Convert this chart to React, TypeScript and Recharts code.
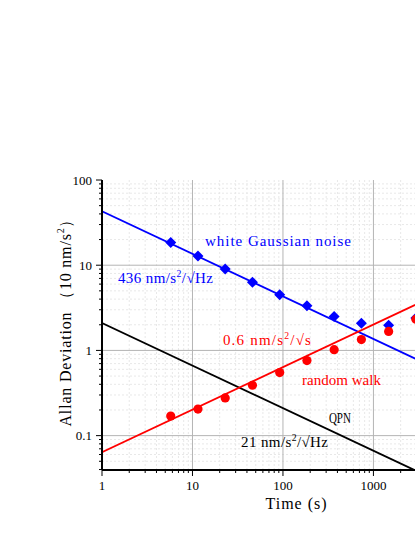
import {
  ComposedChart,
  Line,
  Scatter,
  XAxis,
  YAxis,
  ReferenceLine,
  ReferenceDot,
  Label,
} from 'recharts'

// averaging times (s) and measured Allan deviations (10 nm/s^2)
const tau = [5.75, 11.5, 23, 46, 92, 184, 368, 736, 1472, 2944]
const whiteNoise = [18.5, 12.8, 9.0, 6.3, 4.5, 3.35, 2.5, 2.08, 1.97, 2.4]
const randomWalk = [0.17, 0.205, 0.277, 0.39, 0.55, 0.76, 1.02, 1.34, 1.67, 2.32]

// fitted slopes, read at both ends
const fitX = [1, 2900]
const whiteFit = [43, 0.8]
const walkFit = [0.064, 3.43]
const qpnFit = [2.1, 0.039]

const xMajor = [1, 10, 100, 1000]
const xMinor = [2, 3, 4, 5, 6, 7, 8, 9, 20, 30, 40, 50, 60, 70, 80, 90, 200, 300, 400, 500, 600, 700, 800, 900, 2000]
const yMajor = [0.1, 1, 10, 100]
const yMinor = [0.04, 0.05, 0.06, 0.07, 0.08, 0.09, 0.2, 0.3, 0.4, 0.5, 0.6, 0.7, 0.8, 0.9, 2, 3, 4, 5, 6, 7, 8, 9, 20, 30, 40, 50, 60, 70, 80, 90]

// annotation text: odd parts are superscripts
const notes = [
  { parts: ['white Gaussian noise'], x: 13.75, y: 19.2, color: '#0000ff' },
  { parts: ['436 nm/s', '2', '/√Hz'], x: 1.5, y: 7.03, color: '#0000ff' },
  { parts: ['0.6 nm/s', '2', '/√s'], x: 21.7, y: 1.31, color: '#ff0000' },
  { parts: ['random walk'], x: 162, y: 0.444, color: '#ff0000' },
  { parts: ['QPN'], x: 322, y: 0.163, color: '#000000' },
  { parts: ['21 nm/s', '2', '/√Hz'], x: 34.4, y: 0.085, color: '#000000' },
]
const noteWidths = [146, 95, 88, 79, 22, 87]
const noteSizes = [15, 15, 15, 15, 14, 15]
const noteSqueeze = [false, false, false, false, true, false]

const FONT = '"Liberation Serif", serif'

const pts = (xs: number[], ys: number[]) => xs.map((x, i) => ({ x, y: ys[i] }))

const isMajor = (v: number) => Math.abs(Math.log10(v) - Math.round(Math.log10(v))) < 1e-6

function Diamond(props: any) {
  const { cx, cy } = props
  if (cx == null || cy == null) return null
  const r = 5.5
  return (
    <polygon
      points={`${cx},${cy - r} ${cx + r},${cy} ${cx},${cy + r} ${cx - r},${cy}`}
      fill="#0000ff"
    />
  )
}

function Dot(props: any) {
  const { cx, cy } = props
  if (cx == null || cy == null) return null
  return <circle cx={cx} cy={cy} r={4.6} fill="#ff0000" />
}

function XTick(props: any) {
  const { x, y, payload } = props
  const major = isMajor(payload.value)
  return (
    <g>
      <line x1={x} x2={x} y1={y} y2={y + (major ? 6 : 3)} stroke="#000" strokeWidth={1} />
      {major && (
        <text x={x} y={y + 15} textAnchor="middle" dominantBaseline="central" fontSize={13} fontFamily={FONT} fill="#000">
          {payload.value}
        </text>
      )}
    </g>
  )
}

function YTick(props: any) {
  const { x, y, payload } = props
  const major = isMajor(payload.value)
  return (
    <g>
      <line x1={x - (major ? 6 : 3)} x2={x} y1={y} y2={y} stroke="#000" strokeWidth={1} />
      {major && (
        <text x={x - 10} y={y} textAnchor="end" dominantBaseline="central" fontSize={13} fontFamily={FONT} fill="#000">
          {payload.value}
        </text>
      )}
    </g>
  )
}

function RichText({ x, y, parts, color, width, size, squeeze }: any) {
  return (
    <text
      x={x}
      y={y}
      fill={color}
      fontSize={size}
      fontFamily={FONT}
      dominantBaseline="central"
      textLength={width}
      lengthAdjust={squeeze ? 'spacingAndGlyphs' : 'spacing'}
    >
      {parts.map((p: string, i: number) =>
        i % 2 === 1 ? (
          <tspan key={i} dy={-5} fontSize={size * 0.65}>
            {p}
          </tspan>
        ) : (
          <tspan key={i} dy={i === 0 ? 0 : 5}>
            {p}
          </tspan>
        ),
      )}
    </text>
  )
}

export default function App() {
  const xTicks = [...xMajor, ...xMinor].sort((a, b) => a - b)
  const yTicks = [...yMajor, ...yMinor].sort((a, b) => a - b)

  return (
    <div style={{ position: 'absolute', left: 0, top: 0, width: 415, height: 537, overflow: 'hidden', background: '#fff' }}>
      <ComposedChart width={415} height={537} margin={{ top: 180, right: 0, bottom: 0, left: 0 }}>
        <XAxis
          dataKey="x"
          type="number"
          scale="log"
          domain={[1, 2880]}
          allowDataOverflow
          ticks={xTicks}
          interval={0}
          tickLine={false}
          tickSize={0}
          tickMargin={0}
          height={67}
          axisLine={{ stroke: '#000', strokeWidth: 2 }}
          tick={<XTick />}
        >
          <Label
            content={() => (
              <text x={296} y={503} textAnchor="middle" dominantBaseline="central" fontSize={16} fontFamily={FONT} fill="#000" textLength={61} lengthAdjust="spacing">
                Time (s)
              </text>
            )}
          />
        </XAxis>
        <YAxis
          dataKey="y"
          type="number"
          scale="log"
          domain={[0.0395, 100]}
          allowDataOverflow
          ticks={yTicks}
          interval={0}
          tickLine={false}
          tickSize={0}
          tickMargin={0}
          width={102}
          axisLine={{ stroke: '#000', strokeWidth: 2 }}
          tick={<YTick />}
        >
          <Label
            content={() => (
              <text
                x={65}
                y={319}
                transform="rotate(-90 65 319)"
                textAnchor="middle"
                dominantBaseline="central"
                fontSize={16}
                fontFamily={FONT}
                fill="#000"
                textLength={215}
                lengthAdjust="spacing"
              >
                Allan Deviation （10 nm/s
                <tspan dy={-5} fontSize={10}>2</tspan>
                <tspan dy={5}>）</tspan>
              </text>
            )}
          />
        </YAxis>

        {xMinor.map((v) => (
          <ReferenceLine key={'xm' + v} x={v} stroke="#e8e8e8" strokeDasharray="2 2" />
        ))}
        {yMinor.map((v) => (
          <ReferenceLine key={'ym' + v} y={v} stroke="#e8e8e8" strokeDasharray="2 2" />
        ))}
        {xMajor.slice(1).map((v) => (
          <ReferenceLine key={'xM' + v} x={v} stroke="#b4b4b4" />
        ))}
        {yMajor.slice(0, 3).map((v) => (
          <ReferenceLine key={'yM' + v} y={v} stroke="#b4b4b4" />
        ))}

        <Line data={pts(fitX, whiteFit)} dataKey="y" stroke="#0000ff" strokeWidth={1.8} dot={false} isAnimationActive={false} />
        <Line data={pts(fitX, qpnFit)} dataKey="y" stroke="#000000" strokeWidth={1.8} dot={false} isAnimationActive={false} />
        <Scatter data={pts(tau, whiteNoise)} dataKey="y" shape={<Diamond />} isAnimationActive={false} />
        <Line data={pts(fitX, walkFit)} dataKey="y" stroke="#ff0000" strokeWidth={1.8} dot={false} isAnimationActive={false} />
        <Scatter data={pts(tau, randomWalk)} dataKey="y" shape={<Dot />} isAnimationActive={false} />

        {notes.map((n, i) => (
          <ReferenceDot
            key={'n' + i}
            x={n.x}
            y={n.y}
            r={0}
            ifOverflow="visible"
            shape={(p: any) => (
              <RichText
                x={p.cx}
                y={p.cy}
                parts={n.parts}
                color={n.color}
                width={noteWidths[i]}
                size={noteSizes[i]}
                squeeze={noteSqueeze[i]}
              />
            )}
          />
        ))}
      </ComposedChart>
    </div>
  )
}
